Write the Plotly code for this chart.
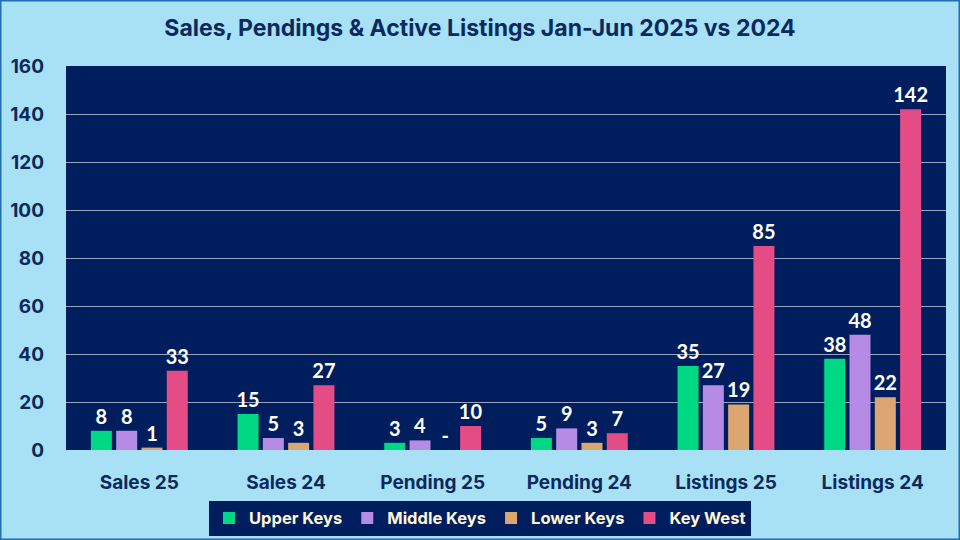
import plotly.graph_objects as go

# Chart data
categories = ['Sales 25', 'Sales 24', 'Pending 25', 'Pending 24', 'Listings 25', 'Listings 24']
upper_keys = [8, 15, 3, 5, 35, 38]
middle_keys = [8, 5, 4, 9, 27, 48]
lower_keys = [1, 3, 0, 3, 19, 22]
key_west = [33, 27, 10, 7, 85, 142]

series = [
    ('Upper Keys', upper_keys, '#00D883'),
    ('Middle Keys', middle_keys, '#B68BE6'),
    ('Lower Keys', lower_keys, '#DCA673'),
    ('Key West', key_west, '#E34C84'),
]

NAVY = '#001E5E'
INK = '#0B2A5C'
W, H = 960, 540
ml, mr, mt, mb = 66, 14, 66, 90
pw = W - ml - mr
ph = H - mt - mb

fig = go.Figure()

for name, vals, color in series:
    fig.add_trace(go.Bar(
        x=categories,
        y=vals,
        name=name,
        marker=dict(color=color, line=dict(width=0)),
        text=[str(v) if v else '-' for v in vals],
        textposition='outside',
        constraintext='none',
        cliponaxis=False,
        textfont=dict(family='Lato', size=20, color='white', weight='bold'),
    ))

fig.update_layout(
    width=W,
    height=H,
    title=dict(
        text='Sales, Pendings & Active Listings Jan-Jun 2025 vs 2024',
        x=0.5, xanchor='center', y=0.948, yanchor='middle',
        font=dict(family='Inter', size=23, color=INK, weight='bold'),
    ),
    paper_bgcolor='#A8E0F6',
    plot_bgcolor=NAVY,
    margin=dict(l=ml, r=mr, t=mt, b=mb, autoexpand=False),
    barmode='group',
    bargap=0.31,
    bargroupgap=0.17,
    legend=dict(
        orientation='h',
        # centred on the whole figure, not the plot area
        x=(W / 2 - ml) / pw, xanchor='center',
        y=-0.132, yanchor='top',
        bgcolor=NAVY,
        font=dict(family='Inter', size=16.5, color='#FFF6D8', weight='bold'),
        itemwidth=30,
        traceorder='normal',
    ),
    xaxis=dict(
        showgrid=False,
        ticks='',
        automargin=False,
        tickfont=dict(family='Inter', size=19, color=INK, weight='bold'),
        ticklabelstandoff=19,
    ),
    yaxis=dict(
        range=[0, 160],
        dtick=20,
        showgrid=True,
        gridcolor='#9AA3BC',
        gridwidth=1,
        zeroline=False,
        automargin=False,
        tickfont=dict(family='Inter', size=19, color=INK, weight='bold'),
        ticklabelstandoff=21,
    ),
)

# Outer frame around the whole figure
fig.add_shape(
    type='rect', xref='paper', yref='paper',
    x0=-ml / pw + 0.5 / pw, x1=1 + mr / pw - 0.5 / pw,
    y0=-mb / ph + 0.5 / ph, y1=1 + mt / ph - 0.5 / ph,
    line=dict(color='#1F6FB5', width=2),
    layer='above',
)

# drop the default page margin so the figure sits at the window corner
fig.write_html('out.html', config={'displayModeBar': False},
               post_script="document.body.style.margin='0';")
